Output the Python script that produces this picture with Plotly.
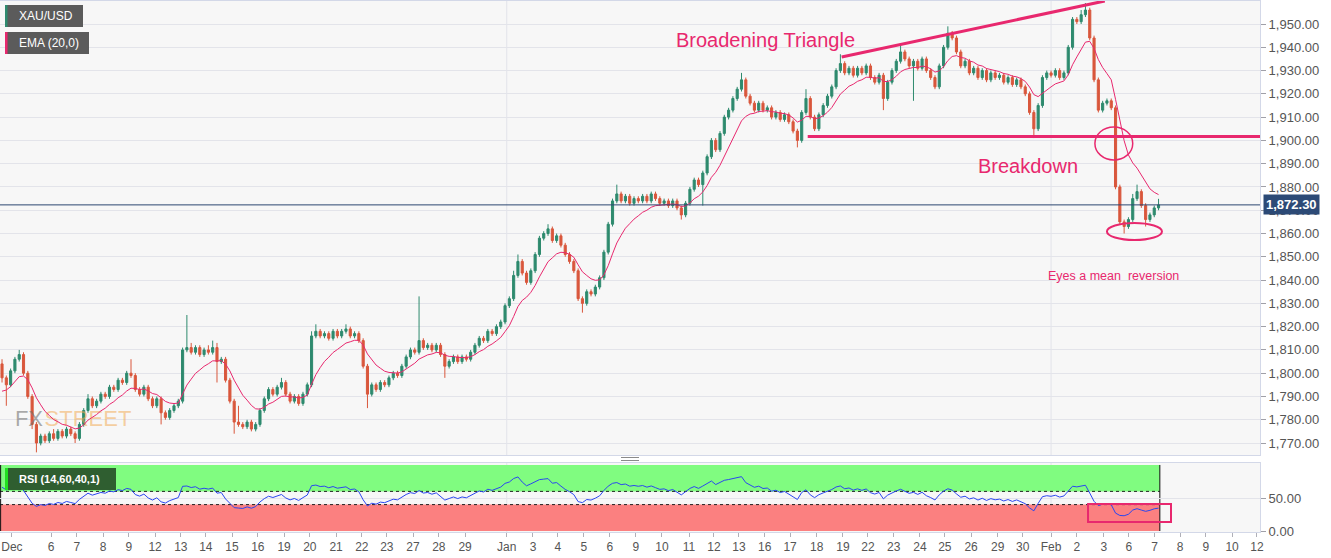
import plotly.graph_objects as go
import numpy as np

# ---------------- data (4-hour candles) ----------------
pre_close = [1772, 1775, 1774, 1778, 1781, 1779, 1783, 1786, 1784, 1788, 1790, 1787, 1791,
             1789, 1786, 1784, 1787, 1785, 1788, 1786, 1789, 1787, 1790, 1792, 1804]

close = [
    1798, 1795, 1801, 1806, 1808, 1800, 1790, 1778, 1770, 1773,
    1771, 1774, 1772, 1775, 1773, 1776, 1774, 1772, 1778, 1784,
    1789, 1786, 1788, 1791, 1790, 1794, 1793, 1797, 1796, 1800,
    1799, 1793, 1791, 1794, 1789, 1786, 1789, 1783, 1781, 1784,
    1786, 1788, 1810, 1811, 1809, 1811, 1808, 1810, 1809, 1811,
    1805, 1806, 1797, 1788, 1779, 1778, 1777, 1779, 1776, 1778,
    1784, 1789, 1793, 1791, 1794, 1796, 1791, 1788, 1790, 1787,
    1791, 1795, 1816, 1818, 1816, 1817, 1815, 1818, 1816, 1818,
    1819, 1816, 1817, 1814, 1803, 1791, 1795, 1793, 1796, 1795,
    1798, 1800, 1799, 1803, 1807, 1810, 1809, 1814, 1811, 1812,
    1810, 1812, 1808, 1803, 1805, 1807, 1805, 1807, 1806, 1809,
    1812, 1815, 1814, 1818, 1817, 1820, 1822, 1829, 1832, 1842,
    1848, 1843, 1839, 1844, 1851, 1858, 1860, 1862, 1857, 1859,
    1855, 1851, 1848, 1844, 1832, 1830, 1835, 1834, 1837, 1841,
    1852, 1864, 1874, 1877, 1874, 1876, 1873, 1875, 1874, 1876,
    1874, 1877, 1875, 1873, 1874, 1872, 1874, 1871, 1868, 1873,
    1879, 1883, 1881, 1886, 1893, 1900, 1896, 1903, 1910, 1913,
    1918, 1922, 1926, 1919, 1916, 1913, 1916, 1913, 1914, 1910,
    1912, 1909, 1911, 1908, 1904, 1900, 1912, 1918, 1910, 1905,
    1911, 1915, 1919, 1923, 1930, 1933, 1929, 1931, 1928, 1931,
    1929, 1932, 1927, 1925, 1928, 1918, 1925, 1930, 1934, 1938,
    1935, 1932, 1934, 1931, 1935, 1930, 1927, 1923, 1932, 1940,
    1946, 1944, 1938, 1932, 1934, 1929, 1931, 1927, 1930, 1926,
    1929, 1927, 1928, 1925, 1927, 1924, 1926, 1923, 1920, 1912,
    1905, 1915, 1927, 1929, 1928, 1930, 1927, 1929, 1940, 1952,
    1951, 1954, 1956, 1944, 1926, 1913, 1916, 1917, 1914, 1880,
    1865, 1863, 1866, 1875, 1878, 1872, 1866, 1868, 1871, 1872.3,
]

up_wick = [
    2, 1, 1, 1, 2, 1, 1, 1, 1, 1,
    1, 1, 2, 1, 1, 1, 1, 1, 1, 1,
    2, 1, 1, 1, 1, 1, 1, 1, 1, 1,
    6, 1, 1, 1, 1, 1, 1, 1, 1, 1,
    1, 1, 1, 14, 2, 1, 1, 1, 2, 3,
    2, 1, 1, 1, 1, 7, 1, 1, 1, 1,
    1, 1, 1, 1, 1, 2, 1, 1, 1, 1,
    1, 1, 2, 3, 1, 1, 1, 1, 1, 1,
    2, 1, 1, 1, 1, 1, 1, 1, 1, 1,
    1, 1, 1, 1, 1, 1, 1, 19, 1, 1,
    1, 1, 1, 1, 1, 1, 1, 1, 1, 1,
    1, 1, 1, 1, 1, 1, 1, 1, 1, 2,
    3, 1, 1, 1, 1, 1, 1, 2, 1, 1,
    1, 1, 1, 1, 1, 1, 1, 1, 1, 1,
    1, 1, 1, 4, 1, 1, 1, 1, 1, 1,
    1, 1, 1, 1, 1, 1, 1, 1, 1, 1,
    1, 1, 1, 1, 1, 1, 1, 1, 1, 1,
    1, 1, 3, 1, 1, 1, 1, 1, 1, 1,
    1, 1, 1, 1, 1, 1, 1, 4, 1, 1,
    1, 1, 1, 1, 1, 4, 1, 1, 1, 1,
    1, 1, 1, 1, 1, 1, 1, 1, 1, 3,
    1, 1, 1, 1, 1, 1, 1, 1, 1, 1,
    3, 1, 1, 1, 1, 1, 1, 1, 1, 1,
    1, 1, 1, 1, 1, 1, 1, 1, 1, 1,
    1, 1, 1, 1, 1, 1, 1, 1, 1, 1,
    1, 2, 3, 1, 1, 1, 1, 1, 1, 1,
    1, 1, 1, 2, 3, 1, 1, 1, 1, 2.6,
]

dn_wick = [
    2, 9, 1, 1, 1, 1, 1, 2, 4, 1,
    1, 1, 1, 1, 1, 1, 1, 2, 1, 1,
    1, 1, 1, 1, 1, 1, 1, 1, 1, 1,
    1, 1, 1, 1, 1, 1, 1, 5, 1, 1,
    1, 1, 1, 1, 1, 1, 1, 1, 1, 1,
    9, 1, 1, 1, 5, 1, 1, 1, 1, 1,
    1, 1, 1, 1, 1, 1, 1, 1, 1, 1,
    1, 1, 1, 1, 1, 1, 1, 1, 1, 1,
    1, 1, 1, 1, 1, 6, 1, 1, 1, 1,
    1, 1, 1, 1, 1, 1, 1, 1, 1, 1,
    1, 1, 1, 5, 1, 1, 1, 1, 1, 1,
    1, 1, 1, 1, 1, 1, 1, 1, 1, 1,
    1, 1, 1, 1, 1, 1, 1, 1, 1, 1,
    1, 1, 1, 1, 1, 4, 1, 1, 1, 1,
    1, 1, 1, 1, 1, 1, 1, 1, 1, 1,
    1, 1, 1, 1, 1, 1, 1, 1, 2, 1,
    1, 1, 1, 9, 1, 1, 1, 1, 1, 1,
    1, 1, 1, 1, 1, 1, 1, 1, 1, 1,
    1, 1, 1, 1, 1, 3, 1, 1, 1, 1,
    1, 1, 1, 1, 1, 1, 1, 1, 1, 1,
    1, 1, 1, 1, 1, 5, 1, 1, 1, 1,
    1, 1, 15, 1, 1, 1, 1, 1, 1, 1,
    1, 1, 1, 1, 1, 1, 1, 1, 1, 1,
    1, 1, 1, 1, 1, 1, 1, 1, 1, 1,
    4, 1, 1, 1, 1, 1, 1, 1, 1, 1,
    1, 1, 1, 1, 1, 1, 1, 1, 1, 1,
    1, 3, 1, 1, 1, 1, 3, 1, 1, 1,
]

tick_pos = [2.3, 11.4, 17.4, 23.5, 29.5, 35.6, 41.6, 47.4, 53.5, 59.5, 65.6, 71.6, 77.7, 83.7,
            89.5, 95.6, 101.6, 107.7, 117.4, 123.5, 129.3, 135.3, 141.4, 147.4, 153.5, 159.8,
            165.6, 171.4, 177.4, 183.3, 189.5, 195.6, 201.4, 207.4, 213.5, 219.3, 225.4, 231.6,
            237.4, 244.0, 250.0, 256.3, 262.1, 268.1, 274.0, 280.0, 286.1, 291.9]
tick_text = ["Dec", "6", "7", "8", "9", "12", "13", "14", "15", "16", "19", "20", "21", "22",
             "23", "27", "28", "29", "Jan", "3", "4", "5", "6", "9", "10", "11", "12", "13",
             "16", "17", "18", "19", "22", "23", "24", "25", "26", "29", "30", "Feb", "2", "3",
             "6", "7", "8", "9", "10", "12"]

last_price = 1872.30
support_level = 1901.7
month_lines = [117.4, 244.0]
ema_span = 10      # smoothing that matches the drawn EMA on these 4h candles
rsi_period = 14

# ---------------- derived candles & indicators ----------------
n_pre = len(pre_close)
all_close = pre_close + close
x = list(range(len(close)))
open_ = [all_close[n_pre - 1 + i] for i in range(len(close))]
high = [max(o, c) + u for o, c, u in zip(open_, close, up_wick)]
low = [min(o, c) - d for o, c, d in zip(open_, close, dn_wick)]

k = 2 / (ema_span + 1)
e = all_close[0]
ema_all = []
for c in all_close:
    e = c * k + e * (1 - k)
    ema_all.append(e)
ema = ema_all[n_pre:]

diffs = np.diff(np.array(all_close, dtype=float))
g = np.clip(diffs, 0, None)
l = np.clip(-diffs, 0, None)
P = rsi_period
ag, al = g[:P].mean(), l[:P].mean()
rsi_all = [None] * (P + 1)
rsi_all[P] = 100 - 100 / (1 + ag / al) if al > 0 else 100
for t in range(P + 1, len(all_close)):
    ag = (ag * (P - 1) + g[t - 1]) / P
    al = (al * (P - 1) + l[t - 1]) / P
    rsi_all.append(100 - 100 / (1 + ag / al) if al > 0 else 100)
rsi = rsi_all[n_pre:]

# ---------------- figure ----------------
W, H = 1331, 558
PW = 1260.0
def PX(p):
    return p / PW
def PY(p):
    return (H - p) / H

XR = [-0.47, 292.6]
PINK = "#e8286e"
GREEN = "#2e8a6e"
RED = "#d9573c"

fig = go.Figure()

# watermark (behind candles)
fig.add_trace(go.Scatter(
    x=[3.0, 9.9], y=[1779.5, 1779.5], mode="text", text=["FX", "STREET"],
    textposition="middle right",
    textfont=dict(family="Arial", size=22,
                  color=["rgba(115,115,115,0.6)", "rgba(242,170,85,0.55)"]),
    hoverinfo="skip", showlegend=False, xaxis="x", yaxis="y"))

fig.add_trace(go.Candlestick(
    x=x, open=open_, high=high, low=low, close=close,
    increasing=dict(line=dict(color=GREEN, width=1), fillcolor=GREEN),
    decreasing=dict(line=dict(color=RED, width=1), fillcolor=RED),
    whiskerwidth=0, showlegend=False, xaxis="x", yaxis="y"))

fig.add_trace(go.Scatter(x=x, y=ema, mode="lines", line=dict(color=PINK, width=1),
                         showlegend=False, xaxis="x", yaxis="y", hoverinfo="skip"))

fig.add_trace(go.Scatter(x=x, y=rsi, mode="lines", line=dict(color="#2a46f0", width=1),
                         showlegend=False, xaxis="x2", yaxis="y2", hoverinfo="skip"))

shapes = []
for m in month_lines:
    shapes.append(dict(type="line", xref="x", yref="paper", x0=m, x1=m, y0=PY(455), y1=PY(1),
                       line=dict(color="#e2e3ea", width=1), layer="below"))
    shapes.append(dict(type="line", xref="x2", yref="paper", x0=m, x1=m, y0=PY(532), y1=PY(463),
                       line=dict(color="#e2e3ea", width=1), layer="below"))
zend = 269.3
shapes.append(dict(type="rect", xref="x2", yref="y2", x0=XR[0], x1=zend, y0=60, y1=100,
                   fillcolor="#80fc80", line=dict(width=0), layer="below"))
shapes.append(dict(type="rect", xref="x2", yref="y2", x0=XR[0], x1=zend, y0=0, y1=40,
                   fillcolor="#fb8080", line=dict(width=0), layer="below"))
for lv in (60, 40):
    shapes.append(dict(type="line", xref="x2", yref="y2", x0=XR[0], x1=zend, y0=lv, y1=lv,
                       line=dict(color="#222", width=1, dash="dot"), layer="below"))
for xv in (XR[0] + 0.15, zend):
    shapes.append(dict(type="line", xref="x2", yref="y2", x0=xv, x1=xv, y0=0, y1=100,
                       line=dict(color="#111", width=1), layer="below"))
shapes.append(dict(type="rect", xref="x2", yref="y2", x0=252.6, x1=271.9, y0=13.6, y1=41,
                   line=dict(color=PINK, width=2)))
shapes.append(dict(type="line", xref="paper", yref="y", x0=0, x1=1, y0=last_price, y1=last_price,
                   line=dict(color="#2c4770", width=1)))
shapes.append(dict(type="line", xref="x", yref="y", x0=195.3, y0=1935.8, x1=256.5, y1=1959.9,
                   line=dict(color=PINK, width=3)))
shapes.append(dict(type="line", xref="x", yref="y", x0=187.4, y0=support_level, x1=XR[1], y1=support_level,
                   line=dict(color=PINK, width=3)))
shapes.append(dict(type="circle", xref="x", yref="y", x0=254.2, x1=263.0, y0=1891.6, y1=1905.8,
                   line=dict(color=PINK, width=1.5)))
shapes.append(dict(type="circle", xref="x", yref="y", x0=257.0, x1=269.8, y0=1857.2, y1=1864.5,
                   line=dict(color=PINK, width=2)))
shapes.append(dict(type="rect", xref="paper", yref="paper", x0=PX(5), x1=PX(83), y0=PY(27), y1=PY(5),
                   fillcolor="#5b5b5b", line=dict(width=0)))
shapes.append(dict(type="rect", xref="paper", yref="paper", x0=PX(5), x1=PX(7.5), y0=PY(27), y1=PY(5),
                   fillcolor=GREEN, line=dict(width=0)))
shapes.append(dict(type="rect", xref="paper", yref="paper", x0=PX(5), x1=PX(89), y0=PY(54), y1=PY(32),
                   fillcolor="#5b5b5b", line=dict(width=0)))
shapes.append(dict(type="rect", xref="paper", yref="paper", x0=PX(5), x1=PX(7.5), y0=PY(54), y1=PY(32),
                   fillcolor=PINK, line=dict(width=0)))
shapes.append(dict(type="rect", xref="paper", yref="paper", x0=PX(5), x1=PX(116), y0=PY(490), y1=PY(468),
                   fillcolor="#2f5e30", line=dict(width=0)))
shapes.append(dict(type="rect", xref="paper", yref="paper", x0=PX(5), x1=PX(8), y0=PY(490), y1=PY(468),
                   fillcolor="#22e022", line=dict(width=0)))
for yy in (457.5, 460.5):
    shapes.append(dict(type="line", xref="paper", yref="paper", x0=PX(621), x1=PX(639), y0=PY(yy), y1=PY(yy),
                       line=dict(color="#8a8a8a", width=1)))

annotations = [
    dict(text="XAU/USD", xref="paper", yref="paper", x=PX(17), y=PY(16), xanchor="left", yanchor="middle",
         showarrow=False, font=dict(family="Arial", size=12, color="white")),
    dict(text="EMA (20,0)", xref="paper", yref="paper", x=PX(17), y=PY(43), xanchor="left", yanchor="middle",
         showarrow=False, font=dict(family="Arial", size=12, color="white")),
    dict(text="<b>RSI (14,60,40,1)</b>", xref="paper", yref="paper", x=PX(17), y=PY(479), xanchor="left",
         yanchor="middle", showarrow=False, font=dict(family="Arial", size=11, color="white")),
    dict(text="Broadening Triangle", xref="paper", yref="paper", x=PX(766), y=PY(40), xanchor="center",
         yanchor="middle", showarrow=False, font=dict(family="Arial", size=20, color=PINK)),
    dict(text="Breakdown", xref="paper", yref="paper", x=PX(1028), y=PY(166), xanchor="center",
         yanchor="middle", showarrow=False, font=dict(family="Arial", size=20, color=PINK)),
    dict(text="Eyes a mean  reversion", xref="paper", yref="paper", x=PX(1113), y=PY(276), xanchor="center",
         yanchor="middle", showarrow=False, font=dict(family="Arial", size=12.5, color=PINK)),
    dict(text="<b>1,872.30</b>", xref="paper", yref="y", x=PX(1263), y=last_price, xanchor="left",
         yanchor="middle", showarrow=False, bgcolor="#2c4a76", borderpad=2,
         font=dict(family="Arial", size=13, color="white")),
]

axis_common = dict(showgrid=False, zeroline=False, automargin=False)
fig.update_layout(
    width=W, height=H,
    margin=dict(l=0, r=W - PW, t=0, b=0, pad=0, autoexpand=False),
    paper_bgcolor="white", plot_bgcolor="#f7f7f7",
    showlegend=False, hovermode=False,
    shapes=shapes, annotations=annotations,
    xaxis=dict(domain=[0, 1], anchor="y", range=XR, showticklabels=False, ticks="",
               showline=True, linecolor="#d3d8e8", mirror=True, rangeslider=dict(visible=False),
               **axis_common),
    yaxis=dict(domain=[PY(455), PY(1)], anchor="x", side="right", range=[1764.86, 1959.88],
               dtick=10, tick0=1770, tickformat=",.2f", showgrid=True, gridcolor="#e3e4ea",
               zeroline=False, automargin=False, ticks="outside", ticklen=5, tickcolor="#a0a0a8",
               showline=True, linecolor="#d3d8e8",
               tickfont=dict(family="Arial", size=13, color="#555")),
    xaxis2=dict(domain=[0, 1], anchor="y2", range=XR, tickmode="array", tickvals=tick_pos,
                ticktext=tick_text, ticks="outside", ticklen=4, tickcolor="#b0b0b8",
                ticklabeloverflow="allow",
                showline=True, linecolor="#d3d8e8", mirror=True,
                tickfont=dict(family="Arial", size=12, color="#555"), **axis_common),
    yaxis2=dict(domain=[PY(532), PY(463)], anchor="x2", side="right", range=[-1.5, 103],
                tickmode="array", tickvals=[0, 50], tickformat=".2f", showgrid=True,
                gridcolor="#e3e4ea", zeroline=False, automargin=False, ticks="outside", ticklen=5,
                tickcolor="#a0a0a8", showline=True, linecolor="#d3d8e8",
                tickfont=dict(family="Arial", size=13, color="#555")),
)

fig.write_html("out.html", config={"displayModeBar": False},
               post_script="document.body.style.margin='0';document.body.style.overflow='hidden';")
